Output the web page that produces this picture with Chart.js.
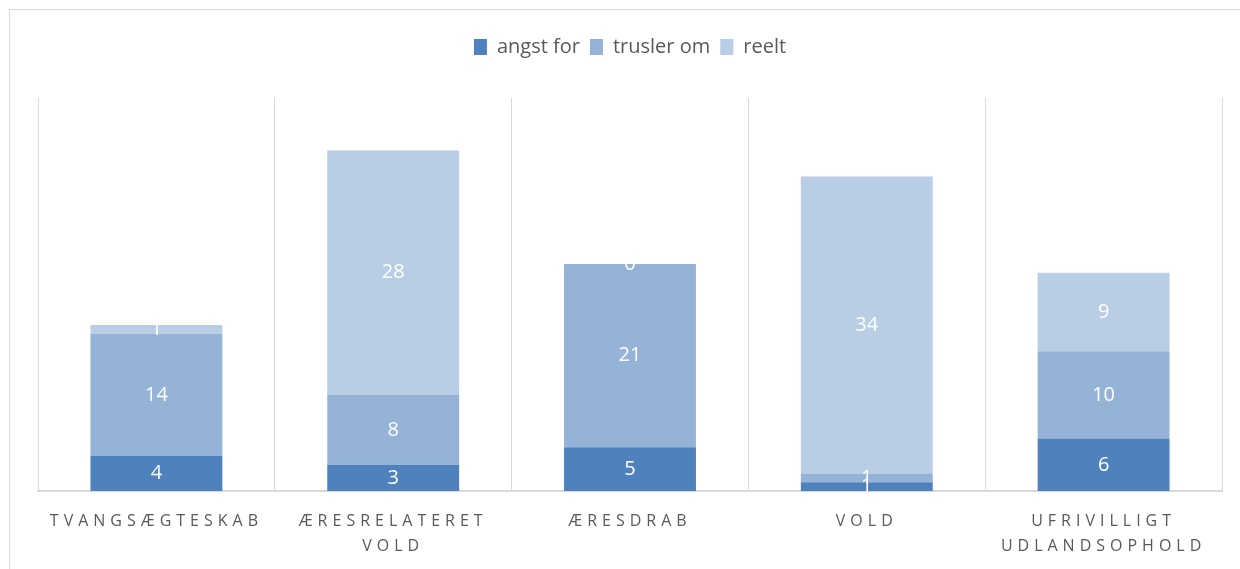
<!DOCTYPE html>
<html>
<head>
<meta charset="utf-8">
<script src="https://cdn.jsdelivr.net/npm/chart.js@4"></script>
<style>
    body { margin: 0; background: #fff; }
    #wrap { position: relative; width: 1240px; height: 569px; overflow: hidden; }
    #frame { position: absolute; left: 9px; top: 9px; width: 1240px; height: 600px; border: 1px solid #d9d9d9; box-sizing: border-box; }
    canvas { position: absolute; left: 0; top: 0; }
</style>
</head>
<body>
<div id="wrap">
    <div id="frame"></div>
    <canvas id="voldChart" width="1240" height="569"></canvas>
</div>
<script>
const categories = [
    "TVANGSÆGTESKAB",
    ["ÆRESRELATERET", "VOLD"],
    "ÆRESDRAB",
    "VOLD",
    ["UFRIVILLIGT", "UDLANDSOPHOLD"],
];
const angstFor = [4, 3, 5, 1, 6];
const truslerOm = [14, 8, 21, 1, 10];
const reelt = [1, 28, 0, 34, 9];

// tal midt i hvert stykke af søjlen
const segmentLabels = {
    id: "segmentLabels",
    beforeDraw(chart) {
        chart.ctx.letterSpacing = "0px";
    },
    afterDatasetsDraw(chart) {
        const ctx = chart.ctx;
        ctx.save();
        ctx.fillStyle = "#ffffff";
        ctx.font = "20px 'Open Sans'";
        ctx.textAlign = "center";
        ctx.textBaseline = "middle";
        chart.data.datasets.forEach(function (ds, i) {
            chart.getDatasetMeta(i).data.forEach(function (bar, j) {
                const p = bar.getProps(["x", "y", "base"], true);
                ctx.fillText(ds.data[j], p.x, (p.y + p.base) / 2);
            });
        });
        ctx.restore();
        // spærret skrift til kategorierne (tegnes efter søjlerne)
        ctx.letterSpacing = "5px";
    },
    afterDraw(chart) {
        chart.ctx.letterSpacing = "0px";
    },
};

// luft under forklaringen
const legendGap = {
    id: "legendGap",
    beforeInit(chart) {
        const fit = chart.legend.fit;
        chart.legend.fit = function () {
            fit.bind(chart.legend)();
            this.height += 31;
        };
    },
};

const ctx = document.getElementById("voldChart").getContext("2d");
new Chart(ctx, {
    type: "bar",
    data: {
        labels: categories,
        datasets: [
            { label: "angst for", data: angstFor, backgroundColor: "#4F81BD" },
            { label: "trusler om", data: truslerOm, backgroundColor: "#95B3D7" },
            { label: "reelt", data: reelt, backgroundColor: "#B9CDE5" },
        ],
    },
    options: {
        responsive: false,
        animation: false,
        layout: { padding: { top: 27, left: 38, right: 18, bottom: -8 } },
        datasets: {
            bar: { categoryPercentage: 1, barPercentage: 0.557 },
        },
        plugins: {
            tooltip: { enabled: false },
            legend: {
                position: "top",
                labels: {
                    boxWidth: 13,
                    boxHeight: 16,
                    padding: 10,
                    color: "#595959",
                    font: { family: "'Open Sans'", size: 20 },
                },
            },
        },
        scales: {
            x: {
                stacked: true,
                grid: { offset: true, color: "#d9d9d9", drawTicks: false },
                border: { color: "#d9d9d9", width: 2 },
                ticks: {
                    z: 1,
                    autoSkip: false,
                    maxRotation: 0,
                    padding: 18,
                    color: "#595959",
                    font: { family: "'Open Sans'", size: 16, lineHeight: 1.5625 },
                },
            },
            y: {
                stacked: true,
                display: false,
                min: 0,
                max: 45,
            },
        },
    },
    plugins: [segmentLabels, legendGap],
});
</script>
</body>
</html>
